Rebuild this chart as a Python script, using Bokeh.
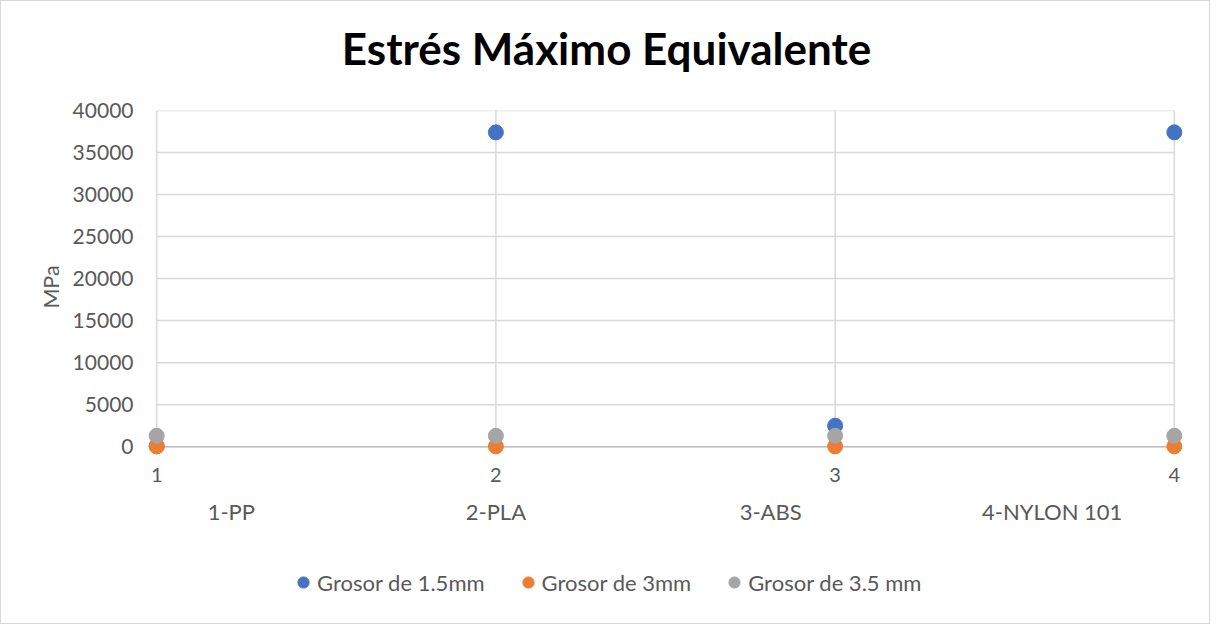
from bokeh.plotting import figure
from bokeh.layouts import column
from bokeh.models import (LinearAxis, FixedTicker, CustomJSTickFormatter, Legend,
                          LegendItem, Range1d, Label)
from bokeh.embed import file_html
from bokeh.resources import INLINE

# ---- data ----
x_vals = [1, 2, 3, 4]
grosor_15 = [60, 37400, 2500, 37400]
grosor_3 = [40, 40, 40, 40]
grosor_35 = [1300, 1300, 1300, 1300]
series = [grosor_15, grosor_3, grosor_35]
series_names = ["Grosor de 1.5mm", "Grosor de 3mm", "Grosor de 3.5 mm"]
category_labels = ["1-PP", "2-PLA", "3-ABS", "4-NYLON 101"]
category_label_pos = [1.22, 2.0, 2.81, 3.64]
y_ticks = [0, 5000, 10000, 15000, 20000, 25000, 30000, 35000, 40000]
x_ticks = [1, 2, 3, 4]
title_text = "Estrés Máximo Equivalente"

colors = ["#4472C4", "#ED7D31", "#A5A5A5"]
FONT = "Lato"
TXT = "#595959"
GRID = "#d9d9d9"
FRAME_LEFT = 145

# ---- title strip ----
tf = figure(width=1208, height=80, output_backend="svg", toolbar_location=None,
            x_range=Range1d(0, 1), y_range=Range1d(0, 1), min_border=0,
            min_border_left=FRAME_LEFT, min_border_right=25,
            x_axis_type=None, y_axis_type=None, outline_line_color=None)
tf.xgrid.visible = False
tf.ygrid.visible = False
tf.add_layout(Label(x=605 - FRAME_LEFT, y=34, x_units="screen", y_units="screen",
                    text=title_text, text_align="center", text_baseline="alphabetic",
                    text_font=FONT, text_font_size="44px", text_font_style="bold",
                    text_color="#000000"))

# ---- main chart ----
p = figure(width=1208, height=480, output_backend="svg", toolbar_location=None,
           x_range=Range1d(0.97, 4.03), y_range=Range1d(-2000, 40000),
           min_border_left=FRAME_LEFT, min_border_right=25, min_border_top=29,
           min_border_bottom=98, outline_line_color=None)
p.xgrid.visible = False
p.ygrid.visible = False
p.xaxis.visible = False
p.yaxis.visible = False

p.segment(x0=[x_ticks[0]] * len(y_ticks), y0=y_ticks, x1=[x_ticks[-1]] * len(y_ticks),
          y1=y_ticks, line_color=GRID, line_width=1.5)
p.segment(x0=x_ticks, y0=[y_ticks[0]] * len(x_ticks), x1=x_ticks,
          y1=[y_ticks[-1]] * len(x_ticks), line_color=GRID, line_width=1.5)
p.segment(x0=[x_ticks[0]], y0=[0], x1=[x_ticks[-1]], y1=[0], line_color="#bfbfbf", line_width=1.5)

yax = LinearAxis(ticker=FixedTicker(ticks=y_ticks), axis_label="MPa",
                 axis_line_color=None, major_tick_line_color=None, minor_tick_line_color=None,
                 major_label_text_font=FONT, major_label_text_font_size="21px",
                 major_label_text_color=TXT, major_label_standoff=7,
                 axis_label_text_font=FONT, axis_label_text_font_size="21.5px",
                 axis_label_text_color=TXT, axis_label_text_font_style="normal",
                 axis_label_standoff=6)
p.add_layout(yax, "left")

xax = LinearAxis(ticker=FixedTicker(ticks=x_ticks),
                 axis_line_color=None, major_tick_line_color=None, minor_tick_line_color=None,
                 major_label_text_font=FONT, major_label_text_font_size="20px",
                 major_label_text_color=TXT, major_label_standoff=-2)
p.add_layout(xax, "below")

cax = LinearAxis(ticker=FixedTicker(ticks=category_label_pos),
                 formatter=CustomJSTickFormatter(args=dict(labels=category_labels),
                                                 code="return labels[index];"),
                 axis_line_color=None, major_tick_line_color=None, minor_tick_line_color=None,
                 major_label_text_font=FONT, major_label_text_font_size="22px",
                 major_label_text_color=TXT, major_label_standoff=7)
p.add_layout(cax, "below")

for ys, c in zip(series, colors):
    p.scatter(x_vals, ys, size=15, color=c)

# ---- legend strip (same series, drawn outside its visible range) ----
lg = figure(width=1208, height=62, output_backend="svg", toolbar_location=None,
            x_range=Range1d(0, 1), y_range=Range1d(-1e6, -9e5), min_border=0,
            min_border_left=FRAME_LEFT, min_border_right=25,
            x_axis_type=None, y_axis_type=None, outline_line_color=None)
lg.xgrid.visible = False
lg.ygrid.visible = False
items = []
for name, ys, c in zip(series_names, series, colors):
    r = lg.scatter(x_vals, ys, size=15, color=c)
    items.append(LegendItem(label=name, renderers=[r]))
legend = Legend(items=items, orientation="horizontal", location=(290 - FRAME_LEFT - 2, 27),
                glyph_width=28, glyph_height=28, label_height=28,
                label_standoff=-4, spacing=29, padding=0, margin=0,
                border_line_color=None, background_fill_alpha=0,
                label_text_font=FONT, label_text_font_size="22px", label_text_color=TXT)
lg.add_layout(legend, "center")

layout = column(tf, p, lg, spacing=0)
layout.styles = {"border": "1px solid #d9d9d9"}

open("out.html", "w").write(file_html(layout, INLINE))
